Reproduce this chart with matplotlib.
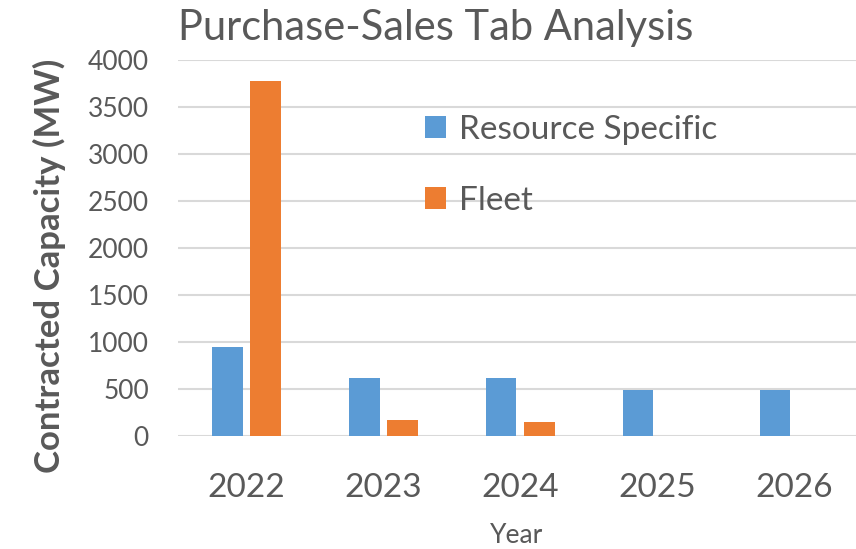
import numpy as np
import matplotlib.pyplot as plt

plt.rcParams['font.family'] = ['Lato', 'DejaVu Sans']

years = ['2022', '2023', '2024', '2025', '2026']
resource_specific = [950, 620, 620, 485, 485]
fleet = [3770, 167, 145, 0, 0]

blue = '#5B9BD5'
orange = '#ED7D31'
grey = '#595959'

fig = plt.figure(figsize=(8.56, 5.49), dpi=100)
ax = fig.add_axes([0.208, 0.206, 0.792, 0.685])

x = np.arange(len(years))
w = 0.22
ax.bar(x - 0.139, resource_specific, w, color=blue, label='Resource Specific', zorder=3)
ax.bar(x + 0.139, fleet, w, color=orange, label='Fleet', zorder=3)

ax.set_xlim(-0.5, 4.45)
ax.set_ylim(0, 4000)
ax.set_yticks(np.arange(0, 4001, 500))
ax.set_xticks(x)
ax.set_xticklabels(years)
ax.yaxis.grid(True, color='#d9d9d9', linewidth=1.5, zorder=0)
for s in ax.spines.values():
    s.set_visible(False)
ax.tick_params(length=0)
ax.tick_params(axis='y', labelsize=19, labelcolor=grey, pad=21)
ax.tick_params(axis='x', labelsize=24, labelcolor=grey, pad=27)

ax.set_xlabel('Year', fontsize=19, color=grey)
ax.xaxis.set_label_coords(0.5, -0.232)
ax.set_ylabel('Contracted Capacity (MW)', fontsize=25, fontweight='bold', color=grey)
ax.yaxis.set_label_coords(-0.165, 0.452)
fig.text(0.208, 0.984, 'Purchase-Sales Tab Analysis', ha='left', va='top', fontsize=30, color=grey)

ax.legend(loc='upper left', bbox_to_anchor=(0.364, 0.853), frameon=False, fontsize=24, borderpad=0,
          borderaxespad=0, labelcolor=grey, handlelength=0.64, handleheight=0.64,
          handletextpad=0.4, labelspacing=1.22)

fig.savefig('out.png', dpi=100)
